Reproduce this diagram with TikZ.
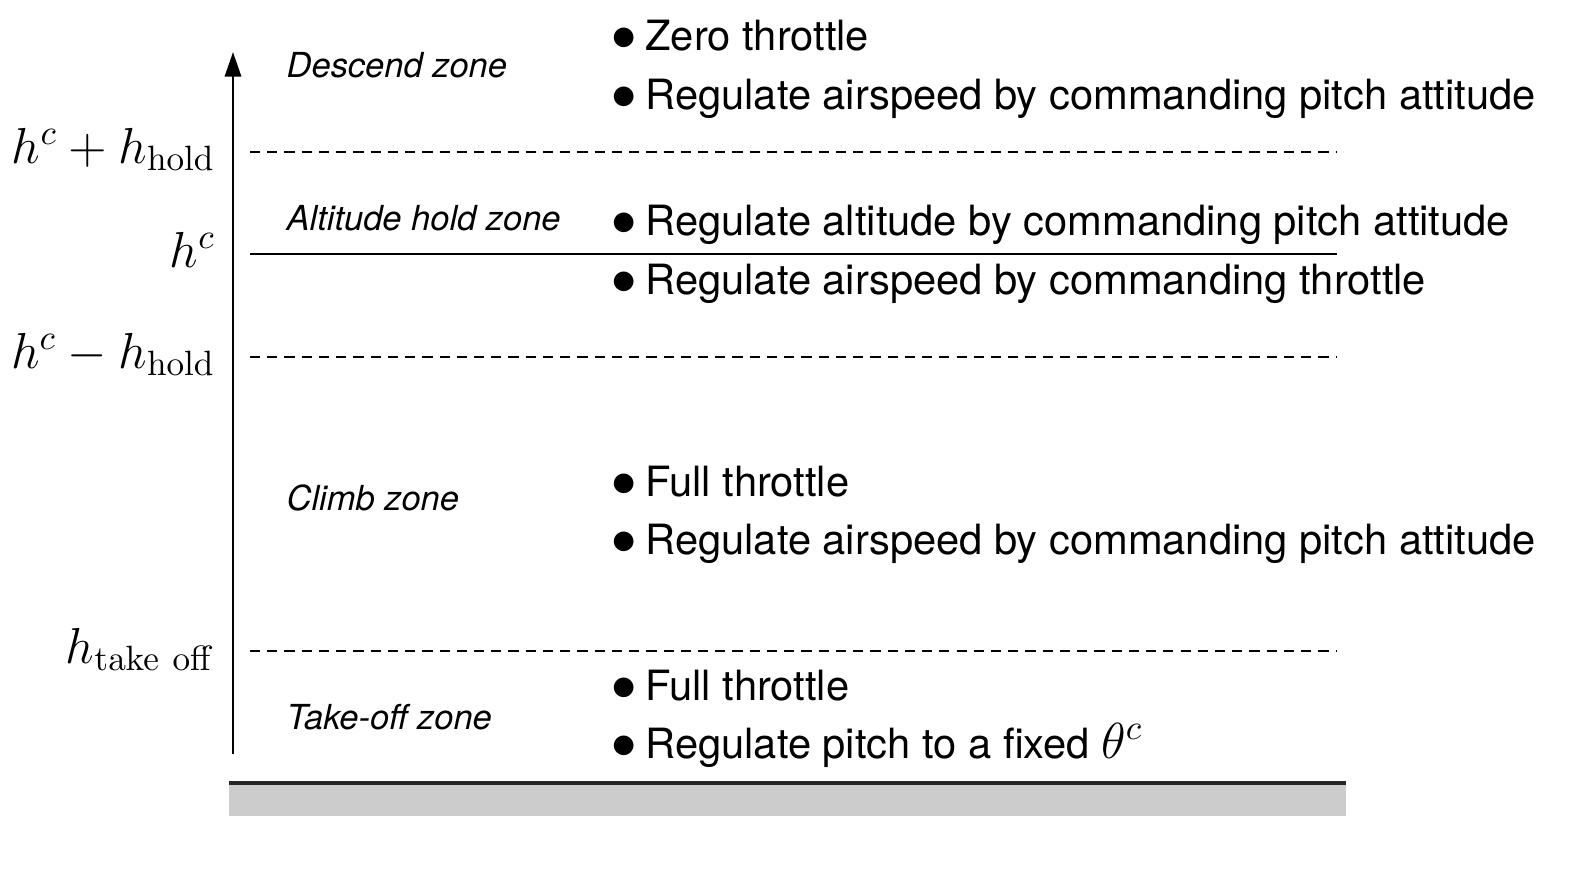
\documentclass[tikz,border=0pt]{standalone}
\usepackage[no-math]{fontspec}
\setmainfont{TeX Gyre Heros}
\usetikzlibrary{arrows.meta}
\newcommand{\itembul}{\makebox[9.6pt][l]{\fontsize{14}{12}\selectfont$\bullet$}}

\begin{document}
\begin{tikzpicture}[x=0.01cm,y=-0.01cm,>={Triangle[length=7pt,width=4.6pt]},
  zone/.style={anchor=base west,inner sep=0pt,font=\fontsize{9.8}{11}\selectfont\itshape},
  item/.style={anchor=base west,inner sep=0pt,font=\fontsize{11.85}{14}\selectfont},
  level/.style={anchor=base east,inner sep=0pt,font=\fontsize{14.1}{16}\selectfont},
  bound/.style={line width=0.6pt,dash pattern=on 2.9pt off 2pt}]
  \useasboundingbox (0,0) rectangle (1576,872);
  % altitude axis
  \coordinate (base) at (233,754);
  \coordinate (top) at (233,52);
  \draw[line width=0.8pt,->] (base) -- (top);
  % ground
  \fill[black!20] (229,785) rectangle (1346,816);
  \coordinate (gl) at (229,783);
  \coordinate (gr) at (1346,783);
  \draw[line width=0.9pt,black!85] (gl) -- (gr);
  % zone boundaries
  \coordinate (hpl) at (250,152);  \coordinate (hpr) at (1337,152);
  \coordinate (hcl) at (250,254);  \coordinate (hcr) at (1337,254);
  \coordinate (hml) at (250,357);  \coordinate (hmr) at (1337,357);
  \coordinate (htl) at (250,651);  \coordinate (htr) at (1337,651);
  \draw[bound] (hpl) -- (hpr);
  \draw[line width=0.6pt] (hcl) -- (hcr);
  \draw[bound] (hml) -- (hmr);
  \draw[bound] (htl) -- (htr);
  % levels
  \node[level] (lplus) at (216,163) {$h^c+h_{\mathrm{hold}}$};
  \node[level] (lc) at (216,267) {$h^c$};
  \node[level] (lminus) at (216,368) {$h^c-h_{\mathrm{hold}}$};
  \node[level] (ltake) at (216,663) {$h_{\mathrm{take\ off}}$};
  % zones
  \node[zone] (descend) at (286,77) {Descend zone};
  \node[zone] (hold) at (286,230) {Altitude hold zone};
  \node[zone] (climb) at (286,510) {Climb zone};
  \node[zone] (takeoff) at (286,729) {Take-off zone};
  % actions
  \node[item] (d1) at (611,50) {\itembul Zero throttle};
  \node[item] (d2) at (611,109) {\itembul Regulate airspeed by commanding pitch attitude};
  \node[item] (a1) at (611,235) {\itembul Regulate altitude by commanding pitch attitude};
  \node[item] (a2) at (611,294) {\itembul Regulate airspeed by commanding throttle};
  \node[item] (c1) at (611,496) {\itembul Full throttle};
  \node[item] (c2) at (611,554) {\itembul Regulate airspeed by commanding pitch attitude};
  \node[item] (t1) at (611,700) {\itembul Full throttle};
  \node[item] (t2) at (611,758) {\itembul Regulate pitch to a fixed {\fontsize{14.5}{16}\selectfont$\theta^c$}};
\end{tikzpicture}
\end{document}
